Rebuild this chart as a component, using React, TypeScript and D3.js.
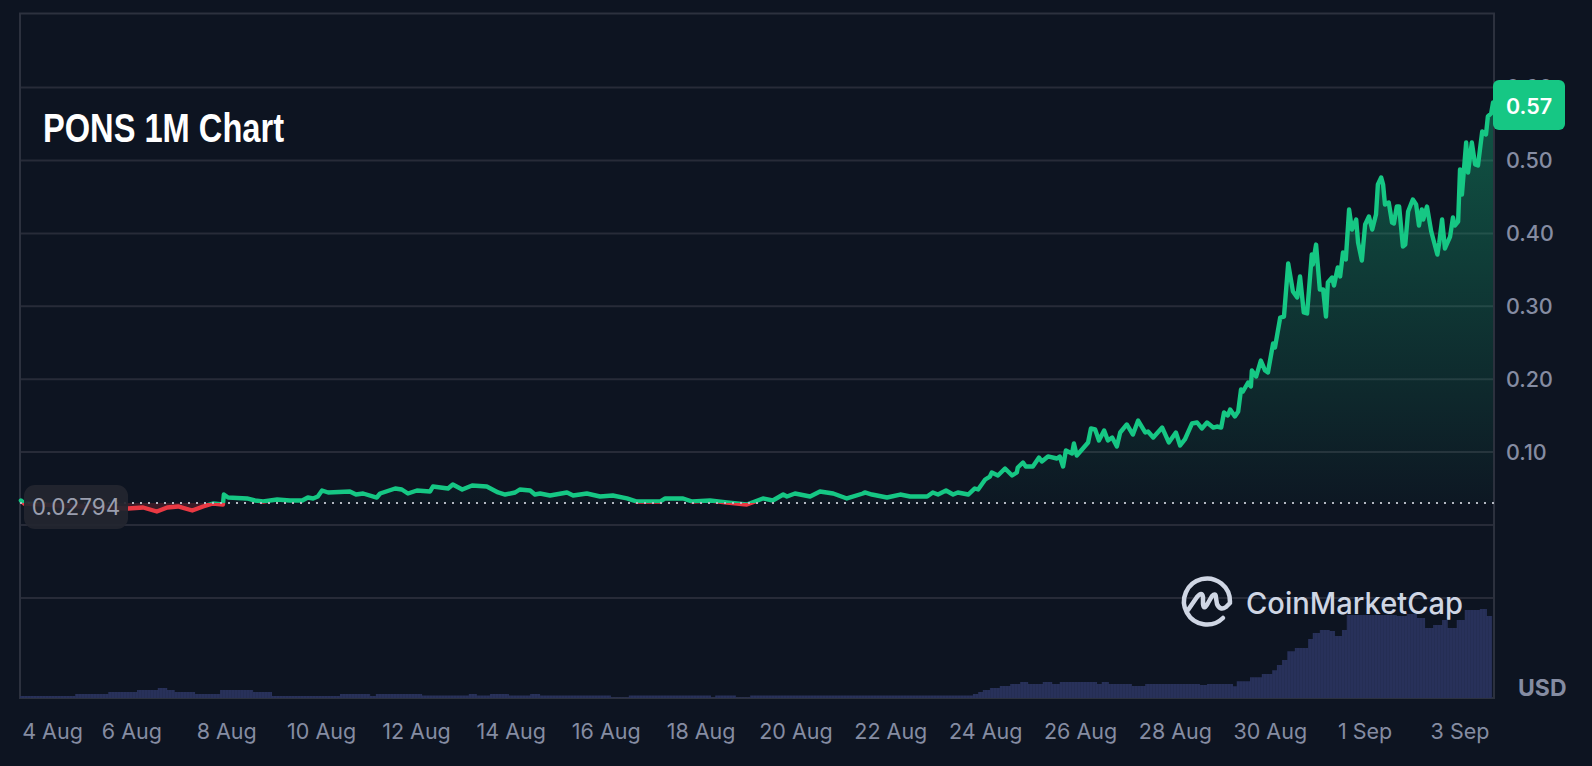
import React from "react";
import * as d3 from "d3";

// [days since 4 Aug 00:00, price in USD]
const pricePoints: [number, number][] = [
  [-0.32,.0336],[-0.25,.0295],[0.51,.0267],[1.36,.024],[1.95,.0226],[2.27,.024],[2.56,.0185],[2.78,.024],[3.01,.0254],[3.31,.0199],
  [3.54,.0254],[3.75,.0295],[3.96,.0281],[3.98,.0418],[4.07,.0377],[4.47,.0364],[4.64,.0336],[4.81,.0322],[5.11,.035],[5.38,.0336],
  [5.64,.0336],[5.76,.0377],[5.87,.0364],[5.97,.0391],[6.06,.0473],[6.19,.0446],[6.65,.046],[6.78,.0418],[6.93,.0432],[7.22,.0377],
  [7.29,.0432],[7.61,.0501],[7.75,.0487],[7.88,.0432],[8.07,.0473],[8.35,.046],[8.41,.0528],[8.73,.0501],[8.83,.0556],[9.03,.0487],
  [9.24,.0542],[9.55,.0528],[9.79,.0446],[9.94,.0418],[10.15,.0446],[10.25,.0487],[10.47,.0473],[10.57,.0418],[10.68,.0432],[10.89,.0405],
  [11.25,.0446],[11.38,.0405],[11.67,.0432],[11.95,.0391],[12.22,.0405],[12.52,.0364],[12.73,.0322],[13.22,.0322],[13.33,.0364],[13.71,.0364],
  [13.9,.0322],[14.28,.0336],[14.64,.0309],[15.06,.0281],[15.4,.0364],[15.61,.0336],[15.83,.0418],[15.91,.0391],[16.08,.0432],[16.4,.0391],
  [16.61,.046],[16.89,.0432],[17.18,.0364],[17.52,.0432],[17.56,.0446],[17.71,.0418],[18.03,.0377],[18.31,.0418],[18.52,.0391],[18.88,.0391],
  [19.0,.0446],[19.11,.0418],[19.28,.0473],[19.43,.0418],[19.53,.0446],[19.75,.0418],[19.89,.0501],[19.96,.0487],[20.11,.0624],[20.21,.0665],
  [20.25,.072],[20.38,.0679],[20.53,.0775],[20.68,.0679],[20.78,.072],[20.8,.0789],[20.91,.0857],[20.97,.0802],[21.12,.0802],[21.25,.0926],
  [21.31,.0871],[21.44,.094],[21.63,.0912],[21.69,.094],[21.76,.0802],[21.82,.1022],[21.95,.0981],[21.99,.1118],[22.05,.0953],[22.18,.1049],
  [22.29,.1132],[22.35,.1324],[22.44,.131],[22.52,.1159],[22.63,.1296],[22.71,.1159],[22.8,.12],[22.9,.1077],[22.97,.1269],[23.11,.1379],
  [23.24,.1241],[23.35,.1433],[23.5,.1269],[23.56,.1283],[23.67,.12],[23.86,.1337],[24.0,.1132],[24.15,.1269],[24.24,.1091],[24.34,.1173],
  [24.49,.1392],[24.6,.1406],[24.7,.1324],[24.81,.1406],[24.94,.1337],[25.02,.1351],[25.11,.1337],[25.17,.1543],[25.25,.1502],[25.3,.1584],
  [25.4,.1488],[25.47,.1557],[25.53,.1859],[25.57,.1831],[25.68,.1955],[25.74,.19],[25.76,.2119],[25.85,.2037],[25.95,.2256],[26.04,.2119],
  [26.1,.2092],[26.21,.249],[26.25,.2435],[26.36,.2846],[26.44,.286],[26.53,.3587],[26.63,.3203],[26.72,.3121],[26.78,.3409],[26.86,.2915],
  [26.93,.2901],[27.03,.371],[27.05,.3573],[27.12,.3847],[27.2,.323],[27.27,.323],[27.33,.286],[27.37,.3326],[27.46,.3395],[27.5,.3285],
  [27.58,.3532],[27.63,.3409],[27.69,.3738],[27.75,.3642],[27.82,.4328],[27.88,.4053],[27.97,.419],[28.01,.3875],[28.09,.3628],[28.16,.4122],
  [28.24,.4232],[28.31,.4053],[28.39,.4259],[28.43,.4671],[28.5,.4767],[28.54,.4671],[28.58,.4396],[28.66,.4424],[28.73,.4149],[28.77,.4136],
  [28.83,.4369],[28.88,.4369],[28.96,.382],[29.01,.3847],[29.07,.43],[29.17,.4465],[29.24,.4396],[29.3,.4108],[29.36,.4328],[29.39,.419],
  [29.47,.4369],[29.56,.4026],[29.69,.371],[29.73,.3875],[29.79,.419],[29.85,.3793],[29.96,.3957],[30.02,.4218],[30.06,.4108],[30.13,.4163],
  [30.17,.4876],[30.21,.4533],[30.3,.5247],[30.34,.4835],[30.42,.5247],[30.49,.4945],[30.55,.4931],[30.64,.5398],[30.72,.5357],[30.76,.5604],
  [30.83,.5645],[30.87,.5796],
];

// [day the level starts, traded volume in relative units]
const volumeSteps: [number, number][] = [
  [-0.34,2],[.83,4],[1.53,6],[2.14,8],[2.58,10],[2.78,8],[2.94,6],[3.37,4],[3.9,8],[4.6,6],[5,2],[6.44,4],[7.08,2],[7.2,4],
  [8.18,2.5],[9.17,4],[9.34,2.5],[9.62,4],[10.02,2.5],[10.47,4],[10.68,2.5],[12.18,.5],[12.56,2.5],[14.3,.5],[14.39,2.5],[14.83,.5],[15.13,2.5],
  [19.85,4],[19.96,6],[20.06,8],[20.21,10],[20.42,12],[20.64,14],[20.85,16],[21.02,14],[21.33,16],[21.53,14],[21.69,16],[22.48,14],[22.58,16],
  [22.73,14],[23.22,12],[23.5,14],[24.66,13],[24.81,14],[25.36,11.7],[25.44,16.7],[25.72,20.7],[25.97,24],[26.19,27.7],[26.29,33],[26.4,38],
  [26.51,46.7],[26.67,50],[26.95,59],[27.05,65],[27.2,68],[27.41,67],[27.52,62],[27.67,68],[27.77,83],[28.83,82],[29.04,84],[29.26,80],
  [29.43,70],[29.6,73],[29.79,78],[29.91,70],[30.1,78],[30.27,88],[30.59,89],[30.74,82],[30.85,82],
];

const yTickValues = [0.6, 0.5, 0.4, 0.3, 0.2, 0.1];
const gridValues = [0.6, 0.5, 0.4, 0.3, 0.2, 0.1, 0, -0.1];
const xTickDays = [0, 2, 4, 6, 8, 10, 12, 14, 16, 18, 20, 22, 24, 26, 28, 30];
const xTickLabels = ["4 Aug","6 Aug","8 Aug","10 Aug","12 Aug","14 Aug","16 Aug","18 Aug","20 Aug","22 Aug","24 Aug","26 Aug","28 Aug","30 Aug","1 Sep","3 Sep"];
const baselineLabel = "0.02794";
const baselineLevel = 0.0302;
const lastPriceLabel = "0.57";

const W = 1592, H = 766;
const L = 20, R = 1494, T = 13.5, B = 698;
const GREEN = "#16c784", RED = "#ea3943", BG = "#0d1421", GRID = "#272b38", FRAME = "#2c313e", MUTED = "#858ca2";
const FONT = "Inter, 'Noto Sans', sans-serif";

const x = d3.scaleLinear().domain([0, 30]).range([36, 1452]);
const xTick = d3.scaleLinear().domain([0, 30]).range([37, 1460]);
const y = d3.scaleLinear().domain([0, 0.5]).range([525, 160.5]);
const yVol = d3.scaleLinear().domain([0, 100]).range([B, B - 100]);
const baseY = y(baselineLevel);

const line = d3.line<[number, number]>().x(d => x(d[0])).y(d => y(d[1])).curve(d3.curveLinear);
const area = d3.area<[number, number]>().x(d => x(d[0])).y0(baseY).y1(d => y(d[1])).curve(d3.curveLinear);
const volArea = d3.area<[number, number]>().x(d => x(d[0])).y0(B).y1(d => yVol(d[1])).curve(d3.curveStepAfter);

export default function App() {
  return (
    <svg width={W} height={H} viewBox={`0 0 ${W} ${H}`} style={{ position: "absolute", left: 0, top: 0, display: "block", background: BG }}>
      <defs>
        <clipPath id="above"><rect x={0} y={0} width={R} height={baseY} /></clipPath>
        <clipPath id="below"><rect x={0} y={baseY} width={R} height={B - baseY} /></clipPath>
        <linearGradient id="greenFill" gradientUnits="userSpaceOnUse" x1={0} x2={0} y1={y(0.575)} y2={baseY}>
          <stop offset="0" stopColor={GREEN} stopOpacity={0.36} />
          <stop offset="1" stopColor={GREEN} stopOpacity={0.02} />
        </linearGradient>
        <pattern id="volStripes" patternUnits="userSpaceOnUse" width={3} height={10}>
          <rect x={0} y={0} width={1} height={10} fill={BG} opacity={0.1} />
        </pattern>
      </defs>

      {gridValues.map(v => (
        <line key={v} x1={L} x2={R} y1={y(v)} y2={y(v)} stroke={GRID} strokeWidth={2} />
      ))}
      <rect x={L} y={T} width={R - L} height={B - T} fill="none" stroke={FRAME} strokeWidth={2} />

      {yTickValues.map(v => (
        <text key={v} x={1506} y={y(v)} dy="0.36em" fontFamily={FONT} fontSize={21.5} fontWeight={500} fill={MUTED}>{v.toFixed(2)}</text>
      ))}

      <path d={volArea(volumeSteps) ?? ""} fill="#28315a" />
      <path d={volArea(volumeSteps) ?? ""} fill="url(#volStripes)" />

      <g clipPath="url(#above)">
        <path d={area(pricePoints) ?? ""} fill="url(#greenFill)" />
        <path d={line(pricePoints) ?? ""} fill="none" stroke={GREEN} strokeWidth={4.4} strokeLinejoin="round" strokeLinecap="round" />
      </g>
      <g clipPath="url(#below)">
        <path d={area(pricePoints) ?? ""} fill={RED} opacity={0.2} />
        <path d={line(pricePoints) ?? ""} fill="none" stroke={RED} strokeWidth={4.4} strokeLinejoin="round" strokeLinecap="round" />
      </g>

      <line x1={L} x2={R} y1={baseY} y2={baseY} stroke="#b4b8c2" strokeWidth={2} strokeDasharray="2 6" />

      <rect x={24} y={485} width={104} height={44} rx={11} fill="#23262f" opacity={0.93} />
      <text x={76} y={507} dy="0.36em" textAnchor="middle" fontFamily={FONT} fontSize={22.5} fill="#9a9eae">{baselineLabel}</text>

      <rect x={1493} y={80} width={72} height={50} rx={6} fill={GREEN} />
      <text x={1529} y={106} dy="0.36em" textAnchor="middle" fontFamily={FONT} fontSize={21.5} fontWeight={600} fill="#ffffff">{lastPriceLabel}</text>

      {xTickDays.map((d, i) => (
        <text key={d} x={i === 0 ? 52.5 : xTick(d)} y={731} dy="0.36em" textAnchor="middle" fontFamily={FONT} fontSize={21.5} fill={MUTED}>{xTickLabels[i]}</text>
      ))}

      <text x={1518} y={688} dy="0.36em" fontFamily={FONT} fontSize={23} fontWeight={700} fill={MUTED}>USD</text>

      <text x={43} y={142} fontFamily="'Liberation Sans', Arial, sans-serif" fontSize={40} fontWeight={700} fill="#ffffff" textLength={241} lengthAdjust="spacingAndGlyphs">PONS 1M Chart</text>

      <g fill="none" stroke="#cfd6e4" strokeWidth={4.5} strokeLinecap="round" strokeLinejoin="round">
        <path d="M 1230 602 A 23 23 0 1 0 1223 618" />
        <path d="M 1188 610 L 1197 597 Q 1202 591 1203 597 L 1203 604 Q 1204 611 1208 603 L 1212 596 Q 1216 592 1216 598 L 1217 604 Q 1220 611 1226 607 L 1230 603" />
      </g>
      <text x={1246} y={614} fontFamily={FONT} fontSize={30} fontWeight={500} fill="#cfd6e4" textLength={217} lengthAdjust="spacingAndGlyphs">CoinMarketCap</text>
    </svg>
  );
}
